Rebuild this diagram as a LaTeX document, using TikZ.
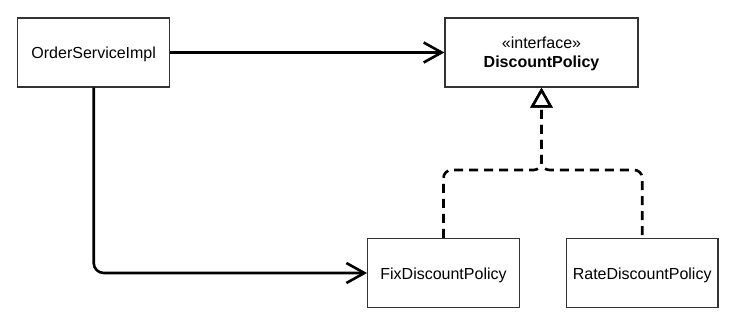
\documentclass[tikz,border=0pt]{standalone}
\usepackage{fontspec}
\setmainfont{Liberation Sans}
\usetikzlibrary{arrows.meta}
\begin{document}
\begin{tikzpicture}[x=1pt,y=-1pt,
  box/.style={draw=black!80, line width=1.3pt, minimum width=152pt, minimum height=69pt,
    inner sep=0pt, text height=12.5pt, text depth=0pt, font=\fontsize{16}{19}\selectfont},
  lbl/.style={inner sep=0pt, anchor=base, font=\fontsize{16}{19}\selectfont},
  conn/.style={line width=2.6pt, -{Straight Barb[length=18pt,width=20pt]}},
  impl/.style={line width=2.6pt, dash pattern=on 9pt off 6pt, rounded corners=8pt,
    -{Triangle[open,length=20pt,width=22pt,fill=white]}}
]
\useasboundingbox (0,0) rectangle (729,329);
\node[box] (osi) at (93.7,52.5) {OrderServiceImpl};
\node[box, minimum width=193pt] (dp) at (541.5,52.5) {};
\node[lbl] (st) at (541.5,48.3) {«interface»};
\node[lbl, font=\fontsize{16}{19}\selectfont\bfseries] (dpn) at (541.5,67.3) {DiscountPolicy};
\node[box, minimum width=151.6pt] (fix) at (443.5,273) {FixDiscountPolicy};
\node[box, minimum width=151.6pt] (rate) at (642.2,273) {RateDiscountPolicy};
\coordinate (j) at (541.5,170);
\draw[conn] (osi.east) -- (dp.west);
\draw[conn, rounded corners=10pt] (osi.south) |- (fix.west);
\draw[impl, dash phase=12.3pt] (rate.north) |- (j) -- (dp.south);
\draw[impl] (fix.north) |- (j) -- (dp.south);
\end{tikzpicture}
\end{document}
